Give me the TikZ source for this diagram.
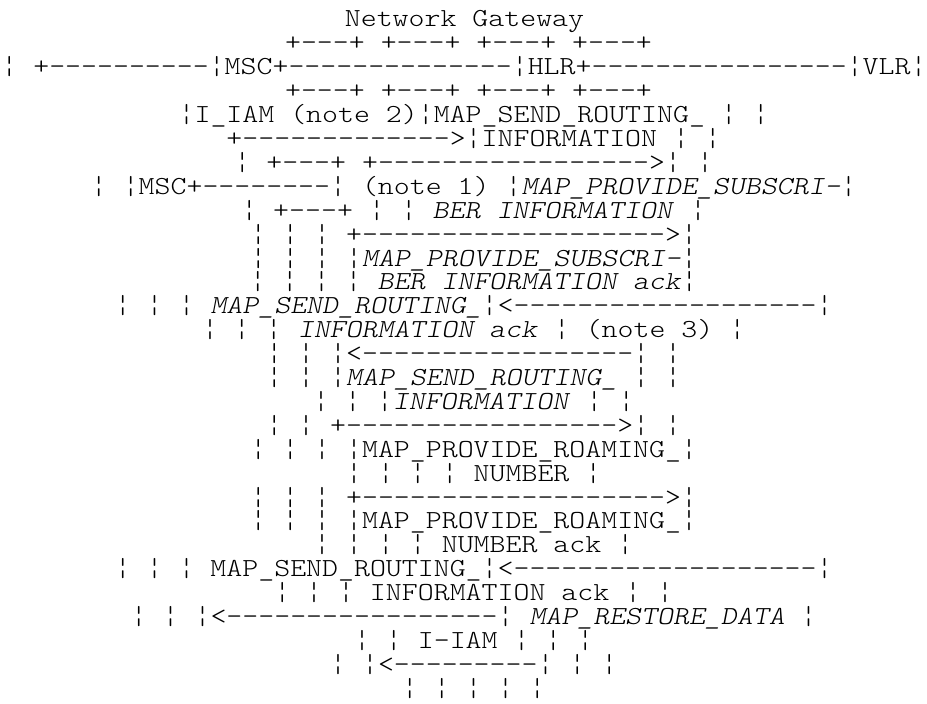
\documentclass[tikz,border=0pt]{standalone}
\usepackage{fontspec}
\setmonofont[ItalicFont=lmmonolt10-oblique.otf]{lmmonolt10-regular.otf}
\tikzset{
  row/.style={anchor=base, inner sep=0pt, outer sep=0pt, text=black,
    xscale=1.1685, transform shape,
    font=\ttfamily\fontsize{26pt}{24pt}\selectfont},
}
\newcommand{\ita}[1]{\textit{#1}}
\begin{document}
\begin{tikzpicture}[x=1pt,y=-1pt]
\useasboundingbox (0,0) rectangle (927,704);
\def\c{473.7}
\node[row] (r1)  at (464.5,27) {Network Gateway};
\node[row] (r2)  at (468.5,50.9) {+---+ +---+ +---+ +---+};
\node[row] (r3)  at (464,74.8)   {¦ +----------¦MSC+--------------¦HLR+----------------¦VLR¦};
\node[row] (r4)  at (468.5,98.7) {+---+ +---+ +---+ +---+};
\node[row] (r5)  at (\c,122.6) {¦I\_{}IAM (note 2)¦MAP\_{}SEND\_{}ROUTING\_{} ¦ ¦};
\node[row] (r6)  at (\c,146.5) {+------------->¦INFORMATION ¦ ¦};
\node[row] (r7)  at (\c,170.4) {¦ +---+ +----------------->¦ ¦};
\node[row] (r8)  at (\c,194.3) {¦ ¦MSC+--------¦ (note 1) ¦\ita{MAP\_{}PROVIDE\_{}SUBSCRI-}¦};
\node[row] (r9)  at (\c,218.2) {¦ +---+ ¦ ¦ \ita{BER INFORMATION} ¦};
\node[row] (r10) at (\c,242.1) {¦ ¦ ¦ +------------------->¦};
\node[row] (r11) at (\c,266) {¦ ¦ ¦ ¦\ita{MAP\_{}PROVIDE\_{}SUBSCRI-}¦};
\node[row] (r12) at (\c,289.9) {¦ ¦ ¦ ¦ \ita{BER INFORMATION ack}¦};
\node[row] (r13) at (\c,313.8) {¦ ¦ ¦ \ita{MAP\_{}SEND\_{}ROUTING\_{}}¦<-------------------¦};
\node[row] (r14) at (\c,337.7) {¦ ¦ ¦ \ita{INFORMATION ack} ¦ (note 3) ¦};
\node[row] (r15) at (\c,361.6) {¦ ¦ ¦<-----------------¦ ¦};
\node[row] (r16) at (\c,385.5) {¦ ¦ ¦\ita{MAP\_{}SEND\_{}ROUTING\_{}} ¦ ¦};
\node[row] (r17) at (\c,409.4) {¦ ¦ ¦\ita{INFORMATION} ¦ ¦};
\node[row] (r18) at (\c,433.3) {¦ ¦ +----------------->¦ ¦};
\node[row] (r19) at (\c,457.2) {¦ ¦ ¦ ¦MAP\_{}PROVIDE\_{}ROAMING\_{}¦};
\node[row] (r20) at (\c,481.1) {¦ ¦ ¦ ¦ NUMBER ¦};
\node[row] (r21) at (\c,505) {¦ ¦ ¦ +------------------->¦};
\node[row] (r22) at (\c,528.9) {¦ ¦ ¦ ¦MAP\_{}PROVIDE\_{}ROAMING\_{}¦};
\node[row] (r23) at (\c,552.8) {¦ ¦ ¦ ¦ NUMBER ack ¦};
\node[row] (r24) at (\c,576.7) {¦ ¦ ¦ MAP\_{}SEND\_{}ROUTING\_{}¦<-------------------¦};
\node[row] (r25) at (\c,600.6) {¦ ¦ ¦ INFORMATION ack ¦ ¦};
\node[row] (r26) at (\c,624.5) {¦ ¦ ¦<-----------------¦ \ita{MAP\_{}RESTORE\_{}DATA} ¦};
\node[row] (r27) at (\c,648.4) {¦ ¦ I-IAM ¦ ¦ ¦};
\node[row] (r28) at (\c,672.3) {¦ ¦<---------¦ ¦ ¦};
\node[row] (r29) at (\c,696.2) {¦ ¦ ¦ ¦ ¦};
\end{tikzpicture}
\end{document}
